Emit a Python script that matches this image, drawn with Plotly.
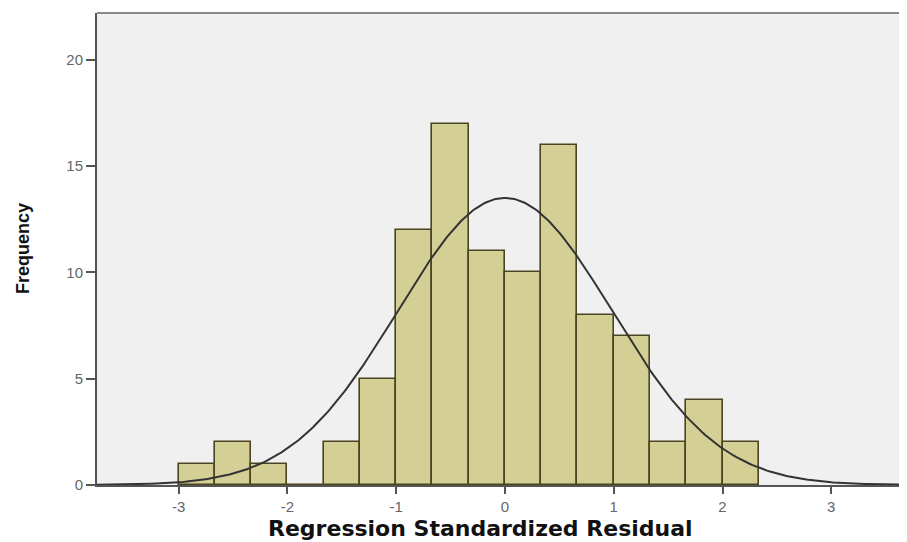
import numpy as np
import plotly.graph_objects as go

# Histogram data (bin width 1/3)
bin_left_edges = [-3.0, -2.6667, -2.3333, -2.0, -1.6667, -1.3333, -1.0, -0.6667,
                  -0.3333, 0.0, 0.3333, 0.6667, 1.0, 1.3333, 1.6667, 2.0]
counts = [1, 2, 1, 0, 2, 5, 12, 17, 11, 10, 16, 8, 7, 2, 4, 2]
bin_width = 1 / 3

# Fitted normal curve parameters
resid_mean = 0.0
resid_std = 0.985
n_obs = sum(counts)

x_ticks = [-3, -2, -1, 0, 1, 2, 3]
y_ticks = [0, 5, 10, 15, 20]

centers = [e + bin_width / 2 for e in bin_left_edges]

xs = np.linspace(-3.8, 3.8, 400)
ys = n_obs * bin_width / (resid_std * np.sqrt(2 * np.pi)) * np.exp(-0.5 * ((xs - resid_mean) / resid_std) ** 2)

fig = go.Figure()
fig.add_trace(go.Bar(
    x=centers, y=counts, width=bin_width,
    marker=dict(color="#d4cf95", line=dict(color="#4a4420", width=1.6)),
    hoverinfo="x+y",
))
fig.add_trace(go.Scatter(
    x=xs, y=ys, mode="lines",
    line=dict(color="#333333", width=2),
    hoverinfo="skip",
))

tick_font = dict(family="Liberation Sans, Arial, sans-serif", size=15, color="#666666")

fig.update_layout(
    width=899, height=534,
    margin=dict(l=89, r=5, t=5, b=57),
    paper_bgcolor="white",
    plot_bgcolor="#f0f0f0",
    showlegend=False,
    bargap=0,
    shapes=[dict(type="line", xref="paper", yref="paper", x0=0, x1=1, y0=1, y1=1,
                 line=dict(color="#8a8a8a", width=2))],
    annotations=[
        dict(text="<b>Regression Standardized Residual</b>", xref="paper", yref="paper",
             x=0.476, y=-0.093, xanchor="center", yanchor="middle", showarrow=False,
             font=dict(family="DejaVu Sans, Verdana, sans-serif", size=22, color="#111111")),
        dict(text="<b>Frequency</b>", xref="paper", yref="paper",
             x=-0.092, y=0.502, xanchor="center", yanchor="middle", showarrow=False,
             textangle=-90,
             font=dict(family="Liberation Sans, Arial, sans-serif", size=18, color="#111111")),
    ],
)
fig.update_xaxes(
    range=[-3.75, 3.65],
    tickvals=x_ticks, ticktext=[str(t) for t in x_ticks],
    showgrid=False, zeroline=False,
    showline=True, linecolor="#555555", linewidth=2,
    ticks="outside", ticklen=7, tickcolor="#555555", tickwidth=1.5,
    tickfont=tick_font,
)
fig.update_yaxes(
    range=[0, 22.2],
    tickvals=y_ticks, ticktext=[str(t) for t in y_ticks],
    showgrid=False, zeroline=False,
    showline=True, linecolor="#555555", linewidth=2,
    ticks="outside", ticklen=9, tickcolor="#555555", tickwidth=1.5,
    tickfont=tick_font,
)

fig.write_html("out.html")
